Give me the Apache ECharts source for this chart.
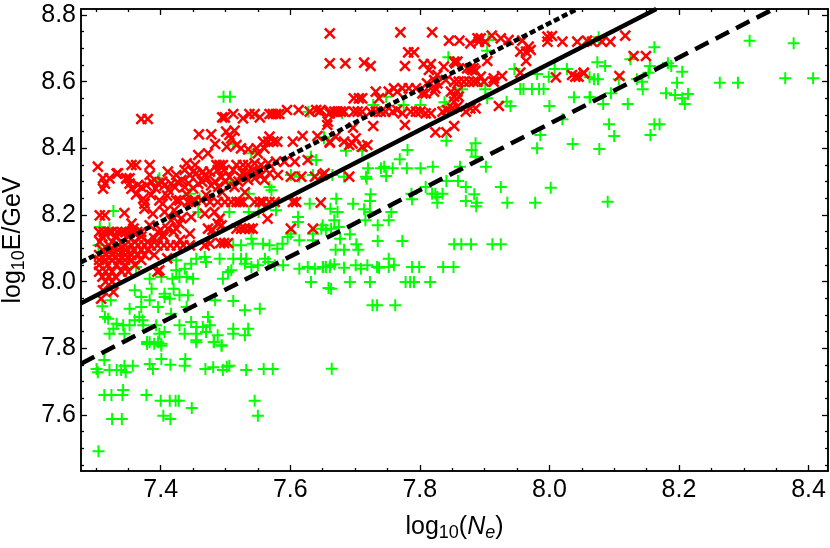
<!DOCTYPE html>
<html>
<head>
<meta charset="utf-8">
<style>
  html, body { margin: 0; padding: 0; background: #fff; }
  #chart { width: 830px; height: 548px; }
</style>
<script src="https://cdn.jsdelivr.net/npm/echarts@6/dist/echarts.min.js"></script>
</head>
<body>
<div id="chart"></div>
<script>
// tick values
var xMajor = [7.4, 7.6, 7.8, 8.0, 8.2, 8.4]
var xMinor = [7.3, 7.35, 7.45, 7.5, 7.55, 7.65, 7.7, 7.75, 7.85, 7.9, 7.95, 8.05, 8.1, 8.15, 8.25, 8.3, 8.35]
var yMajor = [7.6, 7.8, 8.0, 8.2, 8.4, 8.6, 8.8]
var yMinor = [7.45, 7.5, 7.55, 7.65, 7.7, 7.75, 7.85, 7.9, 7.95, 8.05, 8.1, 8.15, 8.25, 8.3, 8.35, 8.45, 8.5, 8.55, 8.65, 8.7, 8.75]

// fit lines, [log10 Ne, log10 E]
var solidLine = [[7.277, 7.935], [8.165, 8.818]]
var dashedLine = [[7.277, 7.754], [8.346, 8.818]]
var dottedLine = [[7.277, 8.058], [8.043, 8.818]]

// iron-like showers
var redPoints = [
  [7.37, 8.488], [7.38, 8.488], [7.495, 8.493], [7.499, 8.493], [7.512, 8.503], [7.527, 8.49], [7.537, 8.503], [7.545, 8.503],
  [7.553, 8.493], [7.568, 8.503], [7.573, 8.503], [7.578, 8.503], [7.583, 8.503], [7.595, 8.515], [7.613, 8.515], [7.63, 8.51],
  [7.64, 8.515], [7.645, 8.51], [7.658, 8.48], [7.661, 8.505], [7.661, 8.655], [7.661, 8.745],
  [7.459, 8.442], [7.478, 8.442], [7.501, 8.45], [7.514, 8.453], [7.506, 8.44], [7.509, 8.43], [7.502, 8.405], [7.517, 8.41],
  [7.524, 8.4], [7.535, 8.397], [7.548, 8.4], [7.484, 8.413], [7.473, 8.385], [7.458, 8.38], [7.558, 8.42], [7.568, 8.435],
  [7.566, 8.42], [7.574, 8.42], [7.58, 8.42], [7.604, 8.42], [7.619, 8.437], [7.642, 8.437], [7.661, 8.42], [7.55, 8.385],
  [7.56, 8.4], [7.303, 8.345], [7.355, 8.35], [7.362, 8.35], [7.383, 8.35], [7.44, 8.355], [7.453, 8.35], [7.486, 8.35],
  [7.491, 8.35], [7.496, 8.35], [7.517, 8.35], [7.527, 8.35], [7.535, 8.35], [7.545, 8.355], [7.555, 8.35], [7.566, 8.355],
  [7.578, 8.36], [7.591, 8.36], [7.607, 8.36], [7.627, 8.365], [7.411, 8.33], [7.424, 8.32], [7.437, 8.335], [7.45, 8.33],
  [7.445, 8.32], [7.455, 8.325], [7.465, 8.33], [7.476, 8.33], [7.488, 8.335], [7.498, 8.335], [7.512, 8.335], [7.527, 8.325],
  [7.542, 8.335], [7.555, 8.32], [7.568, 8.325], [7.581, 8.32], [7.601, 8.315], [7.617, 8.315], [7.638, 8.315], [7.653, 8.325],
  [7.311, 8.31], [7.321, 8.31], [7.334, 8.325], [7.347, 8.31], [7.352, 8.31], [7.383, 8.32],
  [7.314, 8.294], [7.311, 8.279], [7.332, 8.324], [7.347, 8.309], [7.352, 8.294], [7.355, 8.279], [7.37, 8.284], [7.378, 8.289],
  [7.386, 8.299], [7.396, 8.294], [7.406, 8.289], [7.416, 8.294], [7.426, 8.299], [7.437, 8.284], [7.458, 8.294], [7.478, 8.289],
  [7.494, 8.314], [7.514, 8.284], [7.506, 8.314], [7.524, 8.314], [7.532, 8.324], [7.55, 8.329], [7.468, 8.319],
  [7.365, 8.29], [7.392, 8.28], [7.402, 8.3], [7.412, 8.275], [7.422, 8.283], [7.432, 8.305], [7.443, 8.295], [7.45, 8.28],
  [7.464, 8.3], [7.472, 8.31], [7.484, 8.3], [7.489, 8.285], [7.5, 8.3], [7.52, 8.3], [7.535, 8.305], [7.545, 8.31], [7.56, 8.305],
  [7.362, 8.262], [7.385, 8.26], [7.41, 8.258], [7.44, 8.262], [7.47, 8.26], [7.495, 8.268], [7.53, 8.268],
  [7.373, 8.249], [7.375, 8.234], [7.375, 8.219], [7.398, 8.244], [7.403, 8.234], [7.424, 8.244], [7.429, 8.244], [7.442, 8.239],
  [7.447, 8.239], [7.453, 8.244], [7.463, 8.244], [7.476, 8.239], [7.488, 8.239], [7.499, 8.239], [7.509, 8.239], [7.517, 8.239],
  [7.522, 8.239], [7.527, 8.239], [7.545, 8.239], [7.553, 8.239], [7.558, 8.239], [7.568, 8.239], [7.576, 8.239], [7.604, 8.239],
  [7.609, 8.239], [7.647, 8.237],
  [7.306, 8.199], [7.314, 8.199], [7.344, 8.206], [7.388, 8.204], [7.406, 8.209], [7.421, 8.214], [7.447, 8.194], [7.468, 8.204],
  [7.483, 8.209], [7.565, 8.189], [7.601, 8.159], [7.635, 8.159], [7.491, 8.189], [7.488, 8.174], [7.494, 8.169], [7.473, 8.159],
  [7.48, 8.155], [7.517, 8.159], [7.524, 8.159], [7.53, 8.159], [7.537, 8.159], [7.542, 8.159], [7.355, 8.174], [7.358, 8.159],
  [7.383, 8.169], [7.429, 8.174], [7.424, 8.159], [7.445, 8.144], [7.411, 8.159], [7.4, 8.155], [7.396, 8.149], [7.403, 8.14],
  [7.39, 8.13], [7.405, 8.135], [7.42, 8.15], [7.432, 8.19], [7.425, 8.2], [7.416, 8.184], [7.43, 8.125],
  [7.305, 8.149], [7.312, 8.149], [7.32, 8.149], [7.325, 8.149], [7.333, 8.149], [7.34, 8.149], [7.346, 8.149], [7.352, 8.149],
  [7.358, 8.149], [7.364, 8.149], [7.37, 8.149], [7.31, 8.135], [7.33, 8.135], [7.35, 8.135], [7.37, 8.135],
  [7.306, 8.12], [7.325, 8.12], [7.34, 8.12], [7.36, 8.12], [7.38, 8.12],
  [7.32, 8.109], [7.335, 8.109], [7.345, 8.109], [7.355, 8.109], [7.365, 8.109], [7.375, 8.109], [7.385, 8.109], [7.395, 8.109],
  [7.405, 8.109], [7.415, 8.109], [7.425, 8.109], [7.435, 8.109], [7.445, 8.109], [7.468, 8.109], [7.476, 8.114], [7.492, 8.116],
  [7.498, 8.116], [7.504, 8.116],
  [7.31, 8.095], [7.322, 8.095], [7.334, 8.095], [7.346, 8.095], [7.358, 8.095], [7.37, 8.095], [7.38, 8.095],
  [7.305, 8.08], [7.315, 8.08], [7.325, 8.08], [7.335, 8.08], [7.345, 8.08], [7.355, 8.08], [7.365, 8.08], [7.375, 8.08], [7.39, 8.08],
  [7.305, 8.065], [7.315, 8.065], [7.325, 8.065], [7.335, 8.065], [7.345, 8.065], [7.355, 8.065], [7.37, 8.065], [7.41, 8.07],
  [7.305, 8.05], [7.318, 8.05], [7.332, 8.05], [7.345, 8.05], [7.36, 8.05],
  [7.305, 8.03], [7.315, 8.03], [7.325, 8.03], [7.34, 8.03], [7.35, 8.03], [7.398, 8.034], [7.395, 8.03],
  [7.31, 8.015], [7.32, 8.015], [7.33, 8.015], [7.315, 8.0], [7.325, 8.0],
  [7.311, 7.974], [7.308, 7.949], [7.327, 7.969],
  [7.77, 8.748], [7.819, 8.748], [7.685, 8.655], [7.714, 8.657], [7.724, 8.647], [7.777, 8.647], [7.782, 8.688],
  [7.791, 8.688], [7.845, 8.723], [7.861, 8.723], [7.878, 8.715], [7.889, 8.73], [7.894, 8.73], [7.891, 8.72], [7.911, 8.738],
  [7.901, 8.72], [7.925, 8.73], [7.937, 8.725], [7.958, 8.723], [7.997, 8.735], [8.004, 8.737], [7.997, 8.72], [8.02, 8.72],
  [8.043, 8.72], [7.955, 8.69], [7.968, 8.705], [7.971, 8.695], [7.964, 8.69], [7.964, 8.662],
  [7.806, 8.653], [7.817, 8.653], [7.814, 8.635], [7.837, 8.645], [7.853, 8.66], [7.858, 8.66], [7.855, 8.655], [7.904, 8.662],
  [7.873, 8.64], [7.878, 8.64], [7.883, 8.64], [7.881, 8.635], [7.886, 8.633], [7.827, 8.62], [7.822, 8.605], [7.811, 8.595],
  [7.827, 8.595], [7.84, 8.605], [7.853, 8.6], [7.86, 8.6], [7.868, 8.6], [7.876, 8.6], [7.883, 8.6], [7.889, 8.6], [7.894, 8.615],
  [7.899, 8.6], [7.914, 8.61], [7.927, 8.617], [7.914, 8.6], [7.955, 8.627], [8.01, 8.613], [8.035, 8.62], [8.04, 8.615],
  [8.045, 8.615], [8.053, 8.625],
  [7.732, 8.57], [7.737, 8.55], [7.752, 8.57], [7.76, 8.58], [7.765, 8.57], [7.773, 8.58], [7.783, 8.58], [7.794, 8.58],
  [7.804, 8.565], [7.809, 8.565], [7.824, 8.58], [7.822, 8.57], [7.848, 8.57], [7.853, 8.555], [7.86, 8.555], [7.858, 8.57],
  [7.853, 8.54], [7.698, 8.55], [7.706, 8.55], [7.711, 8.55],
  [7.647, 8.515], [7.662, 8.51], [7.668, 8.51], [7.673, 8.51], [7.678, 8.51], [7.683, 8.51], [7.698, 8.51], [7.704, 8.51],
  [7.711, 8.51], [7.724, 8.51], [7.732, 8.51], [7.74, 8.51], [7.747, 8.51], [7.758, 8.51], [7.765, 8.515], [7.773, 8.505],
  [7.786, 8.51], [7.794, 8.51], [7.801, 8.51], [7.809, 8.505], [7.817, 8.505], [7.835, 8.51], [7.842, 8.515], [7.85, 8.52],
  [7.858, 8.525], [7.871, 8.51], [7.878, 8.52], [7.886, 8.52], [7.922, 8.527],
  [7.657, 8.47], [7.697, 8.462], [7.728, 8.467], [7.777, 8.47], [7.824, 8.448], [7.841, 8.448], [7.853, 8.467],
  [7.67, 8.435], [7.661, 8.417], [7.683, 8.42], [7.691, 8.41], [7.696, 8.415], [7.701, 8.43], [7.711, 8.405], [7.719, 8.41],
  [7.65, 8.32], [7.691, 8.315],
  [8.058, 8.723], [8.066, 8.72], [8.081, 8.72], [8.094, 8.72], [8.117, 8.738], [8.13, 8.677], [8.149, 8.677], [8.053, 8.627], [8.108, 8.617]
]

// proton-like showers
var greenPoints = [
  [8.076, 8.733], [8.162, 8.703], [8.309, 8.723], [8.377, 8.715], [8.074, 8.658], [8.086, 8.647], [8.125, 8.667], [8.155, 8.647],
  [8.183, 8.655], [8.188, 8.647], [8.205, 8.63], [8.153, 8.627], [8.069, 8.607], [8.075, 8.607], [8.107, 8.607], [8.135, 8.607],
  [8.143, 8.6], [8.197, 8.597], [8.263, 8.597], [8.291, 8.597], [8.364, 8.61], [8.407, 8.61], [8.063, 8.553], [8.095, 8.565],
  [8.144, 8.577], [8.18, 8.565], [8.194, 8.56], [8.214, 8.563], [8.205, 8.55], [8.083, 8.533], [8.121, 8.533], [8.209, 8.533],
  [8.092, 8.472], [8.162, 8.472], [8.17, 8.472], [8.1, 8.437], [8.156, 8.44], [8.077, 8.398], [8.09, 8.24],
  [7.906, 8.725], [7.904, 8.693], [7.844, 8.673], [7.946, 8.638], [8.008, 8.638], [8.027, 8.638], [7.999, 8.615], [7.981, 8.623],
  [8.062, 8.613], [7.955, 8.578], [7.96, 8.578], [7.973, 8.578], [7.984, 8.578], [7.991, 8.578], [7.901, 8.577], [7.865, 8.577],
  [7.904, 8.55], [7.748, 8.555], [7.728, 8.53], [7.775, 8.53], [7.801, 8.53], [7.838, 8.538], [7.84, 8.525], [7.934, 8.54],
  [7.94, 8.527], [8.0, 8.527], [8.038, 8.553], [8.062, 8.553], [7.68, 8.505], [8.02, 8.487], [7.986, 8.44], [7.981, 8.4],
  [8.036, 8.413], [7.841, 8.423], [7.886, 8.415], [7.88, 8.395], [7.886, 8.375], [7.781, 8.395], [7.769, 8.367], [7.711, 8.393],
  [7.686, 8.393], [7.652, 8.43], [7.72, 8.34], [7.74, 8.34], [7.745, 8.345], [7.758, 8.34], [7.78, 8.34], [7.801, 8.34], [7.82, 8.345],
  [7.862, 8.345], [7.902, 8.345], [7.717, 8.315], [7.748, 8.317], [7.683, 8.315], [7.665, 8.32],
  [7.718, 8.309], [7.809, 8.284], [7.841, 8.302], [7.859, 8.302], [7.871, 8.284], [7.925, 8.284], [8.002, 8.282], [7.724, 8.262],
  [7.787, 8.264], [7.819, 8.264], [7.824, 8.264], [7.835, 8.264], [7.827, 8.254], [7.827, 8.237], [7.884, 8.262], [7.788, 8.247],
  [7.723, 8.242], [7.871, 8.242], [7.888, 8.237], [7.887, 8.226], [7.935, 8.237], [7.978, 8.237], [7.671, 8.249], [7.697, 8.234],
  [7.662, 8.219], [7.673, 8.209], [7.714, 8.217], [7.756, 8.209], [7.723, 8.209], [7.716, 8.184], [7.752, 8.184], [7.735, 8.169],
  [7.668, 8.184], [7.675, 8.164], [7.65, 8.169], [7.655, 8.156], [7.692, 8.142], [7.677, 8.129], [7.735, 8.122], [7.773, 8.122],
  [7.702, 8.112], [7.67, 8.096], [7.683, 8.096], [7.705, 8.096], [7.853, 8.112], [7.864, 8.112], [7.879, 8.112], [7.912, 8.112], [7.925, 8.112],
  [7.65, 8.044], [7.662, 8.049], [7.668, 8.052], [7.655, 8.044], [7.683, 8.042], [7.701, 8.049], [7.709, 8.039], [7.719, 8.049],
  [7.734, 8.044], [7.737, 8.042], [7.752, 8.069], [7.752, 8.044], [7.76, 8.049], [7.788, 8.044], [7.799, 8.044], [7.836, 8.044], [7.852, 8.044],
  [7.692, 7.999], [7.723, 7.999], [7.778, 7.999], [7.785, 7.999], [7.791, 7.999], [7.816, 7.999], [7.659, 7.981],
  [7.727, 7.929], [7.734, 7.929], [7.762, 7.929], [7.664, 7.739],
  [7.313, 7.765], [7.401, 7.768], [7.301, 7.738], [7.303, 7.728], [7.321, 7.735], [7.332, 7.735], [7.339, 7.735], [7.344, 7.748],
  [7.346, 7.728], [7.357, 7.748], [7.383, 7.753], [7.388, 7.738], [7.415, 7.751], [7.438, 7.768], [7.437, 7.748], [7.469, 7.738],
  [7.481, 7.743], [7.496, 7.735], [7.502, 7.745], [7.506, 7.748], [7.532, 7.735], [7.559, 7.738], [7.573, 7.738],
  [7.313, 7.66], [7.324, 7.66], [7.342, 7.675], [7.341, 7.66], [7.378, 7.66], [7.4, 7.643], [7.414, 7.643], [7.423, 7.643],
  [7.428, 7.643], [7.448, 7.621], [7.545, 7.643], [7.55, 7.598], [7.404, 7.598], [7.415, 7.588], [7.325, 7.588], [7.34, 7.588], [7.304, 7.491],
  [7.379, 7.813], [7.383, 7.818], [7.396, 7.818], [7.401, 7.808], [7.455, 7.818], [7.482, 7.818], [7.494, 7.808],
  [7.327, 8.212], [7.306, 8.164], [7.321, 8.16], [7.304, 8.109], [7.396, 8.304], [7.508, 8.299], [7.536, 8.264], [7.568, 8.284],
  [7.571, 8.274], [7.445, 8.264], [7.46, 8.249], [7.458, 8.209], [7.506, 8.209], [7.536, 8.209], [7.551, 8.209], [7.578, 8.214],
  [7.63, 8.234], [7.612, 8.194], [7.612, 8.179], [7.648, 8.159], [7.663, 8.159], [7.635, 8.144], [7.635, 8.124], [7.596, 8.134],
  [7.601, 8.144], [7.614, 8.124], [7.512, 8.109], [7.524, 8.109], [7.542, 8.114], [7.558, 8.114], [7.568, 8.109], [7.588, 8.114],
  [7.58, 8.099], [7.54, 8.129], [7.455, 8.069], [7.468, 8.074], [7.47, 8.059], [7.491, 8.069], [7.512, 8.069], [7.524, 8.069],
  [7.532, 8.069], [7.53, 8.054], [7.424, 8.064], [7.447, 8.054], [7.362, 8.044], [7.54, 8.044], [7.55, 8.049], [7.561, 8.069],
  [7.566, 8.059], [7.576, 8.049], [7.589, 8.049], [7.614, 8.039], [7.627, 8.044], [7.638, 8.039], [7.651, 8.044], [7.661, 8.044],
  [7.632, 7.999], [7.663, 7.979], [7.424, 8.034], [7.437, 8.039], [7.509, 8.034], [7.504, 8.029], [7.496, 8.009], [7.418, 8.009],
  [7.429, 8.014], [7.44, 8.014], [7.45, 8.009], [7.42, 7.979], [7.383, 8.009], [7.386, 7.979], [7.401, 8.014], [7.36, 7.974],
  [7.323, 7.944], [7.406, 7.964], [7.406, 7.954], [7.414, 7.949], [7.429, 7.959], [7.442, 7.959], [7.383, 7.944], [7.37, 7.954],
  [7.396, 7.924], [7.31, 7.926], [7.352, 7.919], [7.37, 7.924], [7.44, 7.924], [7.484, 7.944], [7.512, 7.942], [7.553, 7.919],
  [7.53, 7.914], [7.416, 7.904], [7.314, 7.894], [7.319, 7.889], [7.36, 7.884], [7.367, 7.894], [7.372, 7.884], [7.447, 7.879],
  [7.473, 7.894], [7.332, 7.874], [7.342, 7.869], [7.352, 7.869], [7.327, 7.859], [7.373, 7.869], [7.393, 7.869], [7.429, 7.869],
  [7.455, 7.864], [7.465, 7.864], [7.476, 7.869], [7.512, 7.859], [7.535, 7.859], [7.321, 7.844], [7.344, 7.844], [7.398, 7.844],
  [7.406, 7.849], [7.437, 7.844], [7.455, 7.844], [7.47, 7.849], [7.488, 7.839], [7.512, 7.844], [7.53, 7.839], [7.455, 7.824],
  [7.379, 7.819], [7.39, 7.814], [7.401, 7.814], [7.482, 7.819], [7.494, 7.809],
  [7.497, 8.555], [7.507, 8.555], [7.628, 8.51], [7.652, 8.433], [7.632, 8.375], [7.64, 8.365], [7.512, 8.413], [7.54, 8.385],
  [7.398, 8.31], [7.601, 8.32], [7.614, 8.315], [7.635, 8.32], [7.524, 8.31]
]

var chartFont = '"Liberation Sans", Arial, sans-serif'
var plusPath = 'path://M46,0H64V46H110V64H64V110H46V64H0V46H46Z'
var crossPath = 'path://M41,0H59V41H100V59H59V100H41V59H0V41H41Z'

var nameRich = {
  base: { fontFamily: chartFont, fontSize: 25, color: '#000' },
  sub: { fontFamily: chartFont, fontSize: 18, color: '#000', padding: [11, 0, 0, 0] },
  ital: { fontFamily: chartFont, fontSize: 25, fontStyle: 'italic', color: '#000' },
  subItal: { fontFamily: chartFont, fontSize: 18, fontStyle: 'italic', color: '#000', padding: [11, 0, 0, 0] }
}
var axisStyle = { show: true, onZero: false, lineStyle: { color: '#000', width: 1.5 } }

// one axis per tick length, the frame is built from four sides
function makeAxis(position, range, ticks, length, labels, margin, extra) {
  return Object.assign({
    type: 'value',
    position: position,
    min: range[0],
    max: range[1],
    axisLine: axisStyle,
    splitLine: { show: false },
    axisTick: {
      show: true,
      inside: true,
      length: length,
      customValues: ticks,
      lineStyle: { color: '#000', width: 1.3 }
    },
    axisLabel: labels ? {
      show: true,
      customValues: labels,
      color: '#000',
      fontFamily: chartFont,
      fontSize: 25,
      margin: margin,
      hideOverlap: false,
      showMinLabel: true,
      showMaxLabel: true,
      formatter: function(v) { return v.toFixed(1) }
    } : { show: false }
  }, extra || {})
}

var xRange = [7.277, 8.43]
var yRange = [7.432, 8.818]

var chart = echarts.init(document.getElementById('chart'), null, { renderer: 'canvas' })
chart.setOption({
  animation: false,
  backgroundColor: '#fff',
  grid: { left: 81, right: 2, top: 9, bottom: 77, containLabel: false, outerBoundsMode: 'none' },
  xAxis: [
    makeAxis('bottom', xRange, xMajor, 6, xMajor, 7, {
      name: '{base|log}{sub|10}{base|(}{ital|N}{subItal|e}{base|)}',
      nameLocation: 'middle',
      nameGap: 42,
      nameTextStyle: { rich: nameRich }
    }),
    makeAxis('bottom', xRange, xMinor, 3),
    makeAxis('top', xRange, xMajor, 6),
    makeAxis('top', xRange, xMinor, 3)
  ],
  yAxis: [
    makeAxis('left', yRange, yMajor, 6, yMajor, 5, {
      name: '{base|log}{sub|10}{base|E/GeV}',
      nameLocation: 'middle',
      nameGap: 53,
      nameTextStyle: { rich: nameRich }
    }),
    makeAxis('left', yRange, yMinor, 3),
    makeAxis('right', yRange, yMajor, 6),
    makeAxis('right', yRange, yMinor, 3)
  ],
  series: [
    {
      type: 'scatter',
      data: greenPoints,
      symbol: plusPath,
      symbolSize: 12,
      itemStyle: { color: '#00ff00', opacity: 1 },
      z: 2
    },
    {
      type: 'scatter',
      data: redPoints,
      symbol: crossPath,
      symbolSize: 14,
      symbolRotate: 45,
      itemStyle: { color: '#ff0000', opacity: 1 },
      z: 3
    },
    {
      type: 'line',
      data: solidLine,
      showSymbol: false,
      lineStyle: { color: '#000', width: 4.5 },
      z: 4
    },
    {
      type: 'line',
      data: dashedLine,
      showSymbol: false,
      lineStyle: { color: '#000', width: 4.5, type: [15, 8] },
      z: 4
    },
    {
      type: 'line',
      data: dottedLine,
      showSymbol: false,
      lineStyle: { color: '#000', width: 4.5, type: [6, 3] },
      z: 4
    }
  ]
})
</script>
</body>
</html>
